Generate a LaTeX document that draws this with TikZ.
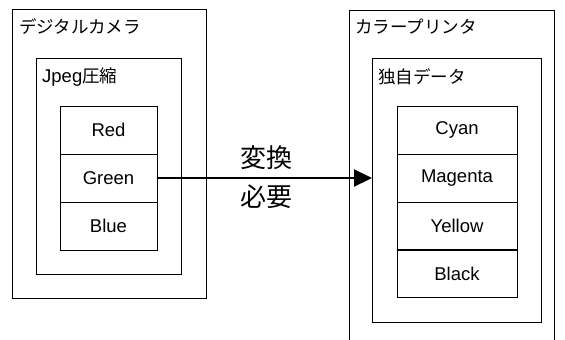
\documentclass[tikz,border=0pt]{standalone}
\usepackage{fontspec}
\setmainfont{Noto Sans CJK JP}
\newfontfamily\lat{Liberation Sans}
\usetikzlibrary{arrows.meta}
\begin{document}
\begin{tikzpicture}[x=1pt,y=-1pt,
  frame/.style={draw,line width=1pt},
  cell/.style={draw,line width=1pt,minimum width=97pt,minimum height=48pt,inner sep=0pt,font=\lat\fontsize{18.5}{22}\selectfont},
  cellr/.style={cell,minimum width=120pt},
  ttl/.style={anchor=west,inner sep=0pt,font=\fontsize{17.5}{20}\selectfont},
  big/.style={font=\fontsize{26}{30}\selectfont,inner sep=0pt}]
\useasboundingbox (0,0) rectangle (565,340);
% left
\draw[frame] (12,9) rectangle (206,298);
\node[ttl] (t1) at (19,27) {デジタルカメラ};
\draw[frame] (36,58) rectangle (181,274);
\node[ttl] (t2) at (42,77) {{\lat\fontsize{18.5}{22}\selectfont Jpeg}圧縮};
\node[cell] (red) at (108.5,130) {Red};
\node[cell] (green) at (108.5,178) {Green};
\node[cell] (blue) at (108.5,226) {Blue};
% right
\draw[frame] (349,345) -- (349,10) -- (554,10) -- (554,345);
\node[ttl] (t3) at (355,27) {カラープリンタ};
\draw[frame] (372,58) rectangle (541,322);
\node[ttl] (t4) at (378,77) {独自データ};
\node[cellr] (cyan) at (457,130) {Cyan};
\node[cellr] (mag) at (457,178) {Magenta};
\node[cellr] (yel) at (457,226) {Yellow};
\node[cellr] (blk) at (457,273.5) {Black};
\coordinate (tip) at (372,178);
\draw[line width=2.2pt,-{Triangle[length=18pt,width=17pt]}] (green.east) -- (tip);
\node[big] (l1) at (266,158) {変換};
\node[big] (l2) at (266,197) {必要};
\end{tikzpicture}
\end{document}
